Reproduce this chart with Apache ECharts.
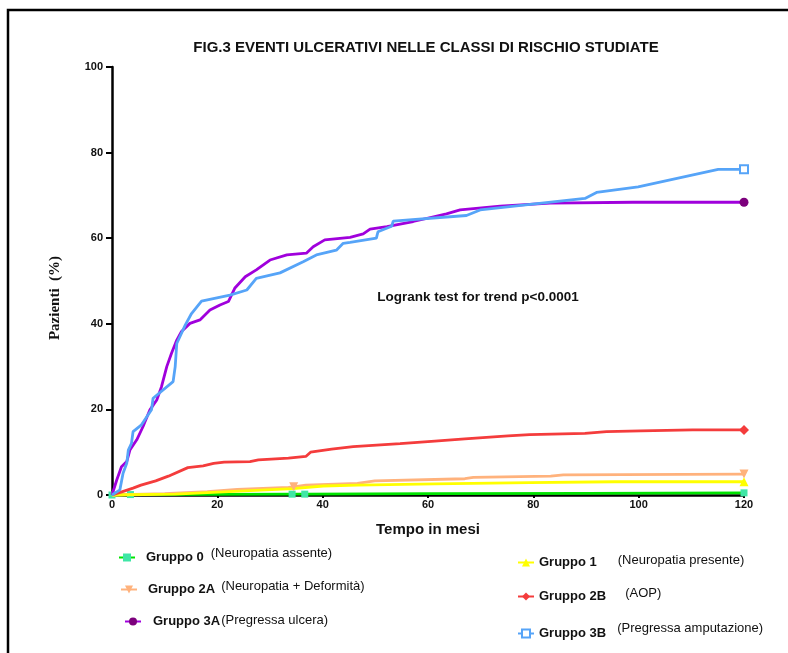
<!DOCTYPE html>
<html>
<head>
<meta charset="utf-8">
<script src="https://cdn.jsdelivr.net/npm/echarts@6/dist/echarts.min.js"></script>
<style>
  html, body { margin: 0; padding: 0; background: #fff; }
  #chart { width: 788px; height: 653px; }
</style>
</head>
<body>
<div id="chart"></div>
<script>
// --- data (months, cumulative % of patients) ---
const groupNames = ['Gruppo 0', 'Gruppo 2A', 'Gruppo 3A', 'Gruppo 1', 'Gruppo 2B', 'Gruppo 3B']
const groupDesc = ['(Neuropatia assente)', '(Neuropatia + Deformità)', '(Pregressa ulcera)',
  '(Neuropatia presente)', '(AOP)', '(Pregressa amputazione)']

const xTicks = [0, 20, 40, 60, 80, 100, 120]
const yTicks = [0, 20, 40, 60, 80, 100]

const months0 = [0, 3.5, 34.2, 36.6, 60, 90, 120]
const values0 = [0, 0.1, 0.2, 0.2, 0.3, 0.4, 0.5]
const marks0 = [0, 1, 2, 3, 6]

const months1 = [0, 12, 22.2, 34.4, 40.1, 46.6, 61.3, 79.3, 95.5, 120]
const values1 = [0, 0.2, 0.8, 1.5, 2.1, 2.3, 2.6, 2.9, 3.1, 3.1]
const marks1 = [9]

const months2A = [0, 10, 18.1, 23.8, 33.5, 34.5, 36.8, 46.6, 49.9, 67, 68.6, 83.3, 85.7, 120]
const values2A = [0, 0.3, 0.8, 1.3, 1.8, 1.9, 2.3, 2.7, 3.3, 3.8, 4.1, 4.4, 4.7, 4.9]
const marks2A = [5, 13]

const months2B = [0, 2, 4, 5.5, 8.3, 10.7, 14.4, 17.3, 19.3, 21.3, 26.2, 27.8, 33.5, 36.8, 37.7,
  41.7, 45.8, 54.7, 61.3, 67, 75.2, 79.3, 89.8, 93.9, 100.4, 110.2, 120]
const values2B = [0, 0.8, 1.6, 2.3, 3.3, 4.4, 6.4, 6.8, 7.4, 7.7, 7.8, 8.2, 8.6, 9, 10,
  10.7, 11.3, 12, 12.6, 13.1, 13.8, 14.1, 14.4, 14.8, 15.0, 15.2, 15.2]
const marks2B = [26]

const months3A = [0, 0.9, 1.8, 2.8, 3.4, 4.7, 5.9, 7.2, 8.5, 9.4, 10.4, 11.3, 12.3, 13.2, 14.8,
  16.7, 18.6, 20.5, 22.1, 23.3, 25.3, 27.4, 30, 33.2, 36.9, 38.2, 40.4, 45.2, 47.7, 49, 52.2,
  57.2, 63.5, 66.1, 73.7, 83.2, 98.9, 120]
const values3A = [0, 3.5, 6.6, 7.8, 10.5, 12.9, 16, 19.9, 22.2, 25.3, 30, 33.1, 36.2, 38.2, 40.1,
  40.9, 43.2, 44.4, 45.2, 48.3, 51, 52.6, 54.9, 56.1, 56.5, 58, 59.6, 60.2, 61, 62.1, 62.7,
  63.9, 65.7, 66.6, 67.5, 68.2, 68.4, 68.4]
const marks3A = [37]

const months3B = [0, 1.5, 2.1, 2.8, 3.1, 3.7, 4.0, 5.6, 7.5, 7.8, 11.6, 12, 12.3, 13.9, 15.1, 17,
  22.4, 25.6, 27.4, 31.9, 36.3, 38.8, 42.6, 43.9, 45.2, 50.2, 50.5, 53.1, 53.4, 67.3, 69.9,
  89.8, 92, 99.9, 115.1, 120]
const values3B = [0, 1.2, 5.1, 7.4, 10.5, 12.1, 14.8, 16.4, 19.9, 22.6, 26.5, 30, 35.4, 39.7, 42.4, 45.3,
  46.7, 47.9, 50.6, 51.9, 54.5, 56.1, 57.2, 58.8, 59, 60, 61.5, 62.8, 64, 65.3, 66.6,
  69.3, 70.7, 72, 76.1, 76.1]
const marks3B = [35]

const FONT = "'Liberation Sans', Arial, sans-serif"

// only the marked points carry a symbol, every other point gets 'none'
const buildData = (months, values, marks) =>
  months.map((m, i) => marks.includes(i) ? { value: [m, values[i]] } : { value: [m, values[i]], symbol: 'none' })

const makeSeries = (name, months, values, marks, lineColor, markColor, symbol, size, z) => ({
  name,
  type: 'line',
  data: buildData(months, values, marks),
  symbol,
  symbolSize: size,
  showSymbol: true,
  showAllSymbol: true,
  clip: false,
  z,
  lineStyle: { color: lineColor, width: 2.8 },
  itemStyle: { color: markColor, borderWidth: symbol === 'emptyRect' ? 1.5 : 0 },
  emphasis: { disabled: true }
})

const series = [
  makeSeries(groupNames[0], months0, values0, marks0, '#00e400', '#3fe6a6', 'rect', 7, 3),
  makeSeries(groupNames[1], months2A, values2A, marks2A, '#ffb27c', '#ffb27c', 'path://M0,0 L10,0 L5,10 Z', 9, 4),
  makeSeries(groupNames[2], months3A, values3A, marks3A, '#a000dc', '#7c007c', 'circle', 9, 6),
  makeSeries(groupNames[3], months1, values1, marks1, '#ffff00', '#ffff00', 'triangle', 9, 4),
  makeSeries(groupNames[4], months2B, values2B, marks2B, '#f43c3c', '#f43c3c', 'diamond', 10, 5),
  makeSeries(groupNames[5], months3B, values3B, marks3B, '#56a4f8', '#56a4f8', 'emptyRect', 8, 7)
]

// legend layout: icon left, icon centre y, gap before name, gap before description, raise of description
const legendPos = [
  [118, 552, 6, 7, 4],
  [120, 585, 6, 6, 3],
  [124, 619, 7, 1, 1],
  [517, 559, 0, 21, 2],
  [517, 592, 0, 19, 3],
  [517, 627, 0, 11, 5]
]

const legends = legendPos.map((p, i) => ({
  data: [groupNames[i]],
  left: p[0],
  top: p[1] - 5,
  padding: 0,
  itemWidth: 16,
  itemHeight: 10,
  selectedMode: false,
  formatter: name => `{b|${name}}{n|${groupDesc[i]}}`,
  textStyle: {
    rich: {
      b: { fontFamily: FONT, fontWeight: 'bold', fontSize: 13, color: '#111', padding: [0, 0, 0, p[2]] },
      n: { fontFamily: FONT, fontSize: 13, color: '#111', padding: [0, 0, p[4] * 2, p[3]] }
    }
  }
}))

const chart = echarts.init(document.getElementById('chart'), null, { renderer: 'canvas' })

chart.setOption({
  animation: false,
  backgroundColor: '#fff',
  title: {
    text: 'FIG.3 EVENTI ULCERATIVI NELLE CLASSI DI RISCHIO STUDIATE',
    left: 421,
    top: 35,
    textAlign: 'center',
    textStyle: { fontFamily: FONT, fontWeight: 'bold', fontSize: 15, color: '#111' }
  },
  grid: { left: 112, right: 44, top: 67, bottom: 158 },
  legend: legends,
  xAxis: {
    type: 'value',
    min: xTicks[0],
    max: xTicks[xTicks.length - 1],
    interval: xTicks[1] - xTicks[0],
    name: 'Tempo in mesi',
    nameLocation: 'middle',
    nameGap: 27,
    nameTextStyle: { fontFamily: FONT, fontWeight: 'bold', fontSize: 15, color: '#111' },
    axisLine: { show: true, onZero: false, lineStyle: { color: '#000', width: 2.5 } },
    axisTick: { show: true, length: 3, lineStyle: { color: '#000', width: 2 } },
    axisLabel: { fontFamily: FONT, fontWeight: 'bold', fontSize: 11, color: '#111', margin: 4 },
    splitLine: { show: false }
  },
  yAxis: {
    type: 'value',
    min: yTicks[0],
    max: yTicks[yTicks.length - 1],
    interval: yTicks[1] - yTicks[0],
    axisLine: { show: true, lineStyle: { color: '#000', width: 2.5 } },
    axisTick: { show: true, length: 6, lineStyle: { color: '#000', width: 2 } },
    axisLabel: { fontFamily: FONT, fontWeight: 'bold', fontSize: 11, color: '#111', margin: 9 },
    splitLine: { show: false }
  },
  graphic: [
    {
      type: 'rect',
      shape: { x: 8, y: 10, width: 900, height: 800 },
      style: { fill: 'none', stroke: '#000', lineWidth: 2.5 },
      z: -1
    },
    {
      type: 'text',
      x: 55,
      y: 298,
      rotation: Math.PI / 2,
      style: {
        text: 'Pazienti  (%)',
        fontFamily: "'Liberation Serif', 'DejaVu Serif', serif",
        fontWeight: 'bold',
        fontSize: 15,
        fill: '#111',
        align: 'center',
        verticalAlign: 'middle'
      }
    },
    {
      type: 'text',
      x: 478,
      y: 297,
      style: {
        text: 'Logrank test for trend p<0.0001',
        fontFamily: FONT,
        fontWeight: 'bold',
        fontSize: 13.5,
        fill: '#111',
        align: 'center',
        verticalAlign: 'middle'
      }
    }
  ],
  series
})

window.addEventListener('resize', () => chart.resize())
</script>
</body>
</html>
